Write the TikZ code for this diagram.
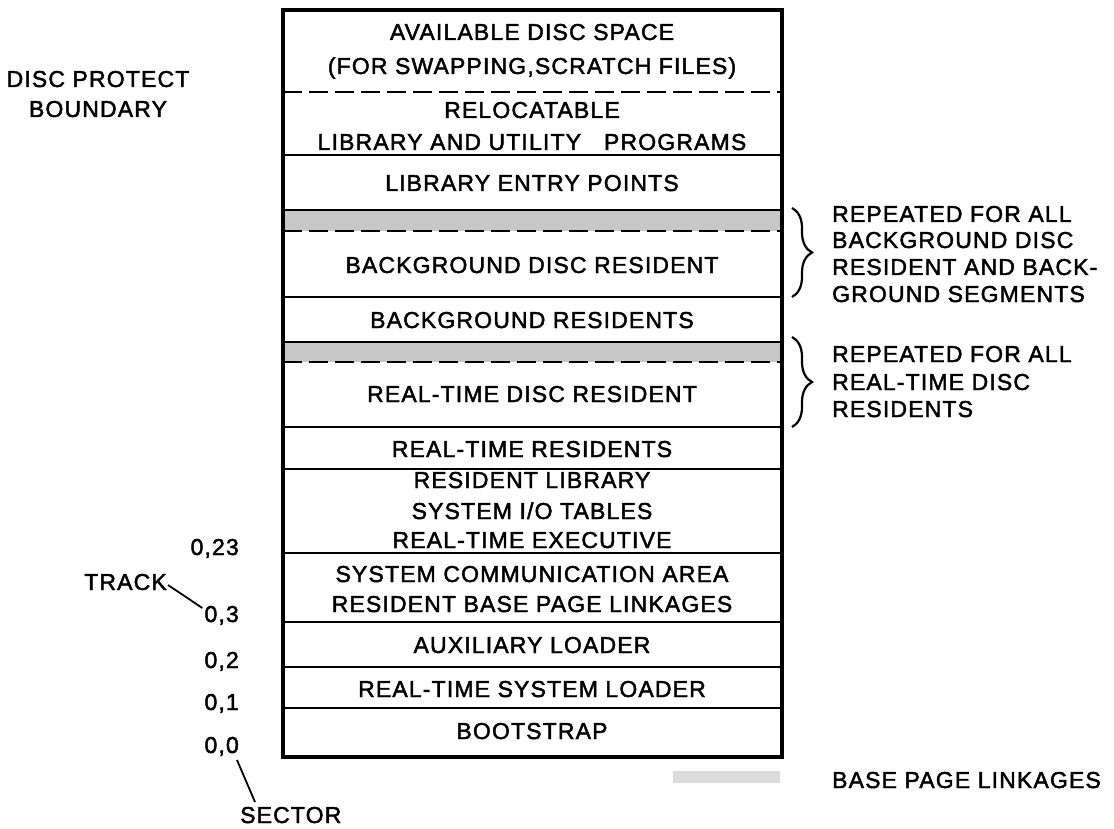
\documentclass[tikz,border=0pt]{standalone}
\usepackage{fontspec}
\setmainfont{Liberation Sans}[LetterSpace=5.0,FakeBold=2]
\usetikzlibrary{decorations.pathreplacing}

\begin{document}
\begin{tikzpicture}[x=1pt,y=-1pt,
  lbl/.style={font=\fontsize{23}{29}\selectfont, inner sep=0pt, anchor=base},
  lblR/.style={lbl, anchor=base east},
  lblL/.style={lbl, anchor=base west},
  divider/.style={line width=2.5pt},
  cutline/.style={line width=2.2pt, dash pattern=on 19pt off 7pt},
  shade/.style={fill=black!22, draw=none},
  frame/.style={line width=4pt},
  lead/.style={line width=1.8pt},
  bracket/.style={line width=2.2pt, decorate, decoration={brace, amplitude=20pt}}
]
\useasboundingbox (0,0) rectangle (1114,829);
\fill[white] (0,0) rectangle (1114,829);

% shaded base page linkage strips and legend swatch
\fill[shade] (283,210) rectangle (782,231);
\fill[shade] (283,342) rectangle (782,362);
\fill[shade, fill=black!14] (673,771) rectangle (780,783);

% area dividers
\foreach \y in {155,210,297,342,427,469,553,622,667,708}
  \draw[divider] (283,\y) -- (782,\y);
\foreach \y in {92,231,362}
  \draw[cutline] (283,\y) -- (782,\y);
\draw[frame] (283,10) rectangle (782,757);

% disc areas
\node[lbl] (avail)  at (532,40)  {AVAILABLE DISC SPACE};
\node[lbl] (swap)   at (532,74)  {(FOR SWAPPING,SCRATCH FILES)};
\node[lbl] (reloc)  at (532,118) {RELOCATABLE};
\node[lbl] (libutl) at (532,150) {LIBRARY AND UTILITY\quad PROGRAMS};
\node[lbl] (entry)  at (532,191) {LIBRARY ENTRY POINTS};
\node[lbl] (bgdisc) at (532,273) {BACKGROUND DISC RESIDENT};
\node[lbl] (bgres)  at (532,328) {BACKGROUND RESIDENTS};
\node[lbl] (rtdisc) at (532,402) {REAL-TIME DISC RESIDENT};
\node[lbl] (rtres)  at (532,457) {REAL-TIME RESIDENTS};
\node[lbl] (reslib) at (532,488) {RESIDENT LIBRARY};
\node[lbl] (iotab)  at (532,519) {SYSTEM I/O TABLES};
\node[lbl] (exec)   at (532,548) {REAL-TIME EXECUTIVE};
\node[lbl] (comm)   at (532,582) {SYSTEM COMMUNICATION AREA};
\node[lbl] (bplink) at (532,612) {RESIDENT BASE PAGE LINKAGES};
\node[lbl] (aux)    at (532,653) {AUXILIARY LOADER};
\node[lbl] (rtsl)   at (532,697) {REAL-TIME SYSTEM LOADER};
\node[lbl] (boot)   at (532,739) {BOOTSTRAP};

% left side labels
\node[lbl] (protA) at (98,87)  {DISC PROTECT};
\node[lbl] (protB) at (98,117) {BOUNDARY};
\node[lblR] (t023) at (239,555) {0,23};
\node[lblR] (track) at (167,590) {TRACK};
\node[lblR] (t03)  at (239,622) {0,3};
\node[lblR] (t02)  at (239,668) {0,2};
\node[lblR] (t01)  at (239,710) {0,1};
\node[lblR] (t00)  at (239,753) {0,0};
\node[lblL] (sector) at (240,823) {SECTOR};
\draw[lead] ([shift={(1,-5)}]track.base east) -- ([shift={(-2,-14)}]t03.base west);
\draw[lead] ([shift={(-2,7)}]t00.base east) -- ([shift={(15,-21)}]sector.base west);

% right side notes
\coordinate (b1top) at (792,208);
\coordinate (b1bot) at (792,297);
\coordinate (b2top) at (792,337);
\coordinate (b2bot) at (792,427);
\draw[bracket] (b1top) -- (b1bot);
\draw[bracket] (b2top) -- (b2bot);
\node[lblL] (n1a) at (832,222) {REPEATED FOR ALL};
\node[lblL] (n1b) at (832,248) {BACKGROUND DISC};
\node[lblL] (n1c) at (832,275) {RESIDENT AND BACK-};
\node[lblL] (n1d) at (832,302) {GROUND SEGMENTS};
\node[lblL] (n2a) at (832,362) {REPEATED FOR ALL};
\node[lblL] (n2b) at (832,390) {REAL-TIME DISC};
\node[lblL] (n2c) at (832,417) {RESIDENTS};
\node[lblL] (legend) at (832,788) {BASE PAGE LINKAGES};
\end{tikzpicture}
\end{document}
